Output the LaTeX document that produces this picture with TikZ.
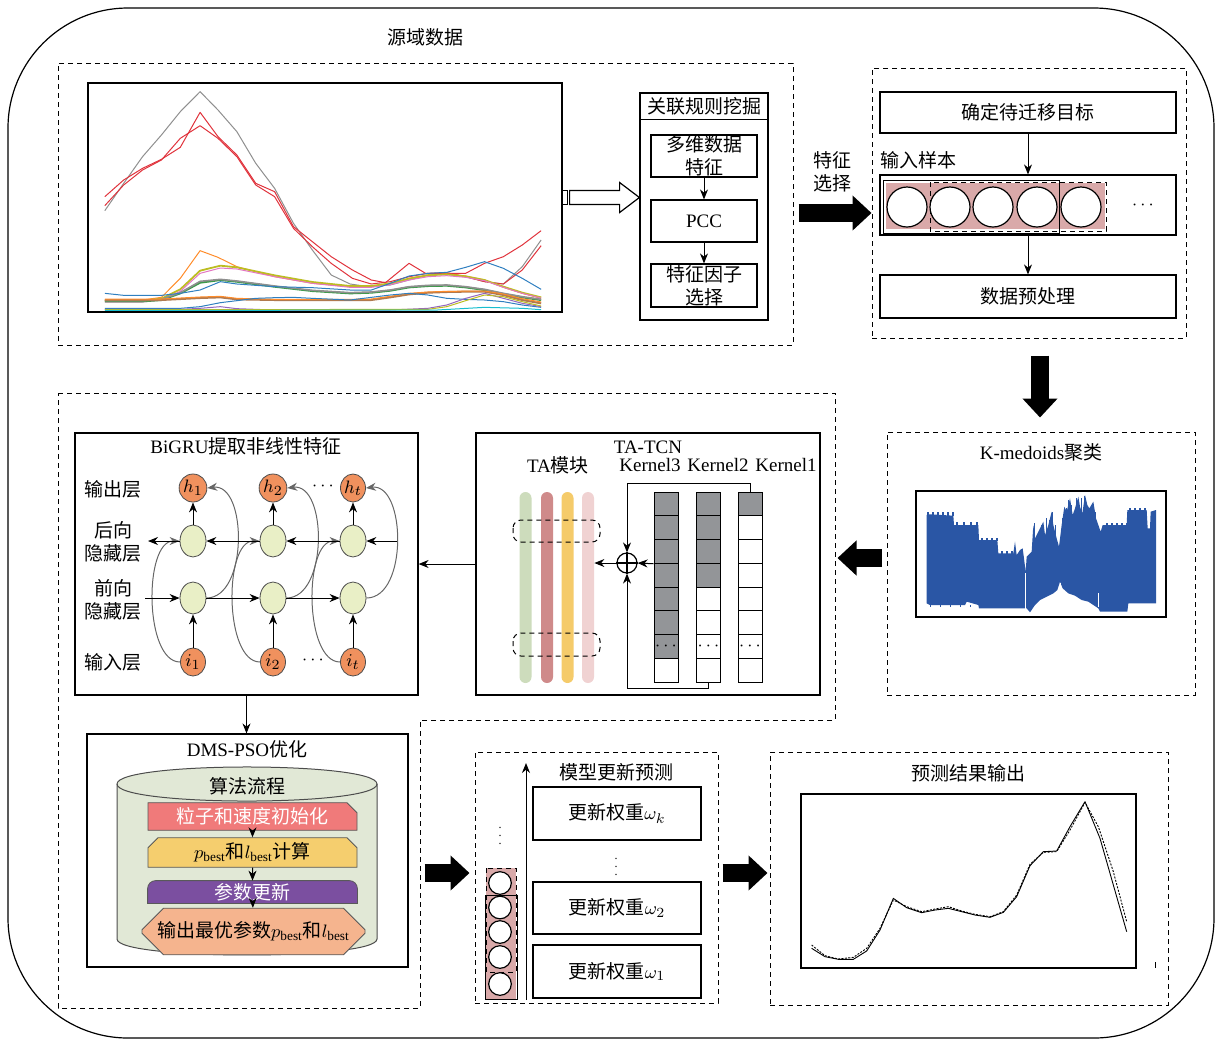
\documentclass[tikz,border=0pt]{standalone}
\usepackage{fontspec}
\setmainfont{Liberation Serif}
\newfontfamily\cjkfont{Noto Sans CJK SC}
\newcommand{\zh}[1]{{\cjkfont #1}}
\usetikzlibrary{arrows.meta,calc,fit,shapes.geometric,shapes.misc}

\definecolor{pinkfill}{HTML}{D9A9A9}
\definecolor{kgray}{HTML}{939598}
\definecolor{nodeor}{HTML}{F0915E}
\definecolor{nodeyl}{HTML}{E9EFC6}
\definecolor{cylfill}{HTML}{E1E8D6}
\definecolor{stepred}{HTML}{F07A7A}
\definecolor{stepyl}{HTML}{F5CE6E}
\definecolor{steppu}{HTML}{7B4FA0}
\definecolor{steppe}{HTML}{F5B48E}
\definecolor{wave}{HTML}{2A56A5}
\definecolor{tagreen}{HTML}{CDDCBC}
\definecolor{tared}{HTML}{CF8A8A}
\definecolor{tayel}{HTML}{F5CB6A}
\definecolor{tapink}{HTML}{F0D2D2}
\definecolor{tgray}{HTML}{8F8F8F}
\definecolor{tred}{HTML}{E0333C}
\definecolor{torange}{HTML}{FF8C2A}
\definecolor{tolive}{HTML}{BCBD22}
\definecolor{tpink}{HTML}{E377C2}
\definecolor{tgreen}{HTML}{3C9A4A}
\definecolor{tblue}{HTML}{2F7FC0}
\definecolor{tbrown}{HTML}{B07A50}
\definecolor{tpurple}{HTML}{9467BD}
\definecolor{tcyan}{HTML}{17BECF}

\tikzset{
  framebox/.style={draw, line width=0.6pt, inner sep=0pt},
  dashframe/.style={draw, dashed, dash pattern=on 2.5pt off 2pt, line width=0.5pt, inner sep=0pt},
  arr/.style={-{Stealth[length=5pt,width=4pt]}, line width=0.5pt},
  bigarrow/.style={line width=9pt, -{Triangle[length=9.5pt,width=17pt]}},
  kcell/.style={draw, line width=0.5pt, minimum width=12pt, minimum height=11.875pt, inner sep=0pt},
  tabar/.style={rectangle, rounded corners=3pt, minimum width=6pt, minimum height=95.5pt, inner sep=0pt},
  gruout/.style={ellipse, draw=black!70, fill=nodeor, minimum width=12.5pt, minimum height=14pt, inner sep=0pt},
  gruhid/.style={ellipse, draw=black!70, fill=nodeyl, minimum width=13pt, minimum height=16pt, inner sep=0pt},
  stepbox/.style={draw=black!65, line width=0.4pt, minimum width=104.5pt, minimum height=11.5pt, inner sep=0pt},
  sampcirc/.style={circle, draw, fill=white, line width=0.6pt, inner sep=0pt},
  smalldots/.style={font=\fontsize{6}{7}\selectfont, inner sep=0pt},
}

\begin{document}
\begin{tikzpicture}[x=0.5pt, y=-0.5pt, font=\fontsize{9.5}{11.5}\selectfont]
  \useasboundingbox (0,0) rectangle (1222,1041);

  % 外框
  \draw[line width=0.6pt, rounded corners=60pt] (8,8) rectangle (1214,1038);
  \node (srctitle) at (425,37) {\zh{源域数据}};

  % 源域数据
  \node[dashframe, fit={(58,63)(793,345)}] (srcframe) {};
  \node[framebox, fit={(88,83)(562,312)}] (srcchart) {};
  \begin{scope}[shift={(60,60)}, xscale=1/2.12, yscale=1/3, line width=0.5pt, line join=round]
    \draw[tgray] (95,452) -- (135,370) -- (175,290) -- (215,225) -- (255,155) -- (297,95) -- (335,150) -- (375,215) -- (415,310) -- (455,385) -- (495,490) -- (535,570) -- (575,645) -- (615,672) -- (655,680) -- (700,675) -- (740,660) -- (780,645) -- (820,642) -- (860,650) -- (900,665) -- (940,672) -- (980,620) -- (1020,540);
    \draw[tred] (95,410) -- (135,360) -- (175,325) -- (215,298) -- (255,262) -- (297,157) -- (335,230) -- (375,285) -- (415,370) -- (455,395) -- (495,500) -- (535,545) -- (575,590) -- (620,630) -- (660,660) -- (690,668) -- (740,610) -- (775,640) -- (820,640) -- (860,640) -- (900,610) -- (940,590) -- (980,555) -- (1020,512);
    \draw[tred] (95,437) -- (135,375) -- (175,330) -- (215,300) -- (255,235) -- (297,197) -- (335,235) -- (375,290) -- (415,375) -- (455,410) -- (495,505) -- (535,560) -- (575,610) -- (620,655) -- (660,672) -- (700,665) -- (740,650) -- (780,640) -- (820,638) -- (860,650) -- (900,665) -- (940,672) -- (980,630) -- (1020,557);
    \draw[torange] (95,720) -- (175,720) -- (215,712) -- (255,655) -- (297,572) -- (335,592) -- (375,620) -- (455,650) -- (535,670) -- (615,680) -- (655,680) -- (700,672) -- (740,655) -- (780,645) -- (820,642) -- (860,648) -- (900,660) -- (940,682) -- (980,700) -- (1020,715);
    \draw[tolive, line width=0.9pt] (95,722) -- (175,722) -- (215,716) -- (255,688) -- (297,632) -- (340,617) -- (375,622) -- (455,646) -- (535,666) -- (615,678) -- (660,678) -- (700,670) -- (740,656) -- (780,646) -- (820,643) -- (860,649) -- (900,660) -- (940,680) -- (980,698) -- (1020,712);
    \draw[tpink] (95,726) -- (175,726) -- (215,720) -- (255,694) -- (297,640) -- (340,624) -- (375,627) -- (455,650) -- (535,670) -- (615,682) -- (660,682) -- (700,674) -- (740,660) -- (780,650) -- (820,647) -- (860,652) -- (900,662) -- (940,682) -- (980,700) -- (1020,714);
    \draw[tgreen, line width=1pt] (95,724) -- (175,724) -- (215,720) -- (255,700) -- (297,668) -- (340,660) -- (375,665) -- (455,680) -- (535,693) -- (615,700) -- (660,698) -- (700,692) -- (740,682) -- (780,678) -- (820,677) -- (860,682) -- (900,690) -- (940,702) -- (980,712) -- (1020,720);
    \draw[tgray, line width=0.8pt] (95,722) -- (175,722) -- (215,718) -- (255,698) -- (297,664) -- (340,658) -- (375,663) -- (455,678) -- (535,691) -- (615,698) -- (660,696) -- (700,690) -- (740,680) -- (780,676) -- (820,675) -- (860,680) -- (900,688) -- (940,700) -- (980,710) -- (1020,718);
    \draw[tblue] (95,700) -- (135,706) -- (215,706) -- (255,700) -- (297,690) -- (340,665) -- (375,672) -- (455,680) -- (535,683) -- (615,690) -- (660,690) -- (700,670) -- (740,648) -- (780,640) -- (820,637) -- (860,622) -- (900,605) -- (940,625) -- (980,655) -- (1020,688);
    \draw[tbrown, line width=1pt] (95,720) -- (215,720) -- (297,714) -- (340,712) -- (375,718) -- (455,720) -- (535,720) -- (615,720) -- (660,720) -- (700,712) -- (740,703) -- (780,698) -- (820,696) -- (860,695) -- (900,695) -- (940,705) -- (980,720) -- (1020,730);
    \draw[torange] (95,717) -- (215,717) -- (297,711) -- (340,709) -- (375,715) -- (455,718) -- (615,718) -- (660,717) -- (700,709) -- (740,700) -- (780,696) -- (820,694) -- (900,693) -- (940,702) -- (980,716) -- (1020,726);
    \draw[tblue] (95,745) -- (255,745) -- (297,740) -- (340,728) -- (375,722) -- (415,715) -- (455,713) -- (495,712) -- (535,715) -- (615,720) -- (700,705) -- (740,700) -- (780,705) -- (820,715) -- (860,718) -- (900,720) -- (940,725) -- (980,735) -- (1020,742);
    \draw[tpurple] (95,748) -- (255,748) -- (297,745) -- (340,740) -- (375,746) -- (455,750) -- (700,750) -- (780,745) -- (820,735) -- (860,715) -- (900,700) -- (940,715) -- (980,730) -- (1020,740);
    \draw[tolive] (95,749) -- (340,749) -- (780,748) -- (820,740) -- (860,722) -- (900,705) -- (940,710) -- (980,725) -- (1020,738);
    \draw[tcyan] (95,751) -- (340,751) -- (800,750) -- (900,742) -- (980,745) -- (1020,749);
  \end{scope}

  % 关联规则挖掘
  \node[framebox, fit={(640,93)(768,320)}] (rulebox) {};
  \node (ruletitle) at (704,106.5) {\zh{关联规则挖掘}};
  \draw[line width=0.6pt] ($(rulebox.north west)+(0,27)$) -- ($(rulebox.north east)+(0,27)$);
  \node[framebox, fit={(651,135)(757,177)}, label={[align=center]center:{\zh{多维数据}\\\zh{特征}}}] (mdfeat) {};
  \node[framebox, fit={(651,200)(757,242)}, label=center:PCC] (pcc) {};
  \node[framebox, fit={(651,264)(757,307)}, label={[align=center]center:{\zh{特征因子}\\\zh{选择}}}] (factor) {};
  \draw[arr] (mdfeat) -- (pcc);
  \draw[arr] (pcc) -- (factor);

  % 空心箭头
  \draw[line width=0.6pt] (srcchart.east) ++(0,-7) rectangle ++(5,14);
  \draw[line width=0.6pt] ($(srcchart.east)+(7,-7)$) -- ++(50,0) -- ++(0,-8) -- (rulebox.west |- srcchart.east) -- ($(srcchart.east)+(57,15)$) -- ++(0,-8) -- ($(srcchart.east)+(7,7)$) -- cycle;

  % 特征选择
  \node[dashframe, fit={(872,68)(1186,338)}] (tgtframe) {};
  \node[align=center] (selname) at (832,172) {\zh{特征}\\\zh{选择}};
  \draw[bigarrow] ($(srcframe.east)+(5,9)$) -- ($(tgtframe.west)+(0,10)$);

  \node[framebox, fit={(880,92)(1176,133)}, label=center:{\zh{确定待迁移目标}}] (goal) {};
  \node[anchor=west, inner sep=0pt] (samplelbl) at (880,160) {\zh{输入样本}};
  \node[framebox, fit={(880,175)(1176,235)}] (sample) {};
  \fill[pinkfill] (886,183) rectangle (1105,229);
  \draw[line width=0.5pt] (883,180) rectangle (1059,233);
  \draw[dashframe] (930,182) rectangle (1106,231);
  \foreach \i/\cx in {1/907,2/950,3/993,4/1037,5/1081}
    \node[sampcirc, minimum size=20pt] (s\i) at (\cx,207) {};
  \node (sdots) at (1143,205) {$\cdots$};
  \node[framebox, fit={(880,275)(1176,318)}, label=center:{\zh{数据预处理}}] (prep) {};
  \draw[arr] (goal) -- (sample);
  \draw[arr] (sample) -- (prep);

  % K-medoids聚类
  \node[dashframe, fit={(887,432)(1195,695)}] (kmframe) {};
  \draw[bigarrow] ($(tgtframe.south)+(11,17)$) -- ($(kmframe.north)+(-1,-14)$);
  \node (kmtitle) at (1041,452) {K-medoids\zh{聚类}};
  \node[framebox, fit={(916,491)(1166,617)}] (kmplot) {};
  \begin{scope}[shift={(880,425)}, scale=1/3]
    \fill[wave] (140,490) -- (140,270) -- (150,268) -- (220,272) -- (222,300) -- (295,300) -- (297,345) -- (352,345) -- (355,385) -- (400,385) -- (405,350) -- (410,390) -- (420,375) -- (428,370) -- (432,400) -- (437,440) -- (440,395) -- (455,380) -- (460,300) -- (465,340) -- (475,320) -- (490,290) -- (495,330) -- (505,300) -- (515,260) -- (520,300) -- (530,340) -- (537,365) -- (545,300) -- (553,245) -- (560,260) -- (570,220) -- (578,270) -- (585,250) -- (595,215) -- (600,245) -- (607,265) -- (615,210) -- (622,240) -- (628,250) -- (640,230) -- (648,280) -- (655,300) -- (662,320) -- (668,300) -- (740,300) -- (742,255) -- (800,255) -- (803,310) -- (810,310) -- (812,260) -- (828,255) -- (828,535) -- (810,535) -- (745,535) -- (742,560) -- (660,560) -- (655,550) -- (640,540) -- (625,530) -- (605,525) -- (585,512) -- (565,505) -- (548,490) -- (540,470) -- (532,495) -- (520,505) -- (500,515) -- (480,525) -- (465,540) -- (450,562) -- (440,550) -- (355,550) -- (297,550) -- (295,540) -- (260,530) -- (255,540) -- (150,540) -- (140,535) -- cycle;
    % 锯齿
    \foreach \bx in {145,160,...,220} \fill[wave] (\bx-3,273) rectangle (\bx+3,262);
    \foreach \bx in {232,252,...,292} \fill[wave] (\bx-3,302) rectangle (\bx+3,292);
    \foreach \bx in {305,320,...,350} \fill[wave] (\bx-3,347) rectangle (\bx+3,338);
    \foreach \bx in {365,380,...,400} \fill[wave] (\bx-3,387) rectangle (\bx+3,378);
    \foreach \bx in {680,695,...,740} \fill[wave] (\bx-3,302) rectangle (\bx+3,293);
    \foreach \bx in {750,765,...,800} \fill[wave] (\bx-3,257) rectangle (\bx+3,248);
    \foreach \bx/\by in {463/295, 472/330, 483/300, 498/280, 508/285, 518/262, 527/300, 548/280, 558/250, 566/225, 575/240, 590/220, 603/220, 612/212, 620/235, 633/240, 645/260}
      \draw[wave, line width=0.5pt] (\bx,\by+40) -- (\bx,\by);
    \foreach \bx/\by in {150,180,...,420} \draw[wave, line width=0.5pt] (\bx,540) -- (\bx,546);
    \draw[white, line width=0.4pt] (437,445) -- (437,553) (540,475) -- (540,528) (655,505) -- (655,545);
  \end{scope}
  \draw[bigarrow] ($(kmframe.west)+(-5,-5.5)$) -- ++(-44,0);

  % 中间虚线区域
  \draw[dashframe] (58,393) -- (835,393) -- (835,720) -- (420,720) -- (420,1008) -- (58,1008) -- cycle;

  % TA-TCN
  \node[framebox, fit={(476,433)(820,695)}] (tcnbox) {};
  \node (tcntitle) at (648,447) {TA-TCN};
  \node (tatitle) at (558,465) {TA\zh{模块}};
  \node (kl3) at (650,465) {Kernel3};
  \node (kl2) at (718,465) {Kernel2};
  \node (kl1) at (786,465) {Kernel1};
  \foreach \c/\bx [count=\n] in {tagreen/525.5, tared/547, tayel/567.5, tapink/588}
    \node[tabar, fill=\c] (ta\n) at (\bx,587.5) {};
  \draw[dashframe, rounded corners=4pt] (513,520) rectangle (600,542);
  \draw[dashframe, rounded corners=4pt] (513,633) rectangle (600,656);
  \foreach \kn/\kx/\ng in {3/666/7, 2/708.5/4, 1/750/1}{
    \foreach \i in {1,...,8}{
      \pgfmathtruncatemacro\cellpct{\i<=\ng ? 100 : 0}
      \node[kcell, fill=kgray!\cellpct] (k\kn-\i) at (\kx,{480.125+23.75*\i}) {};
    }
    \node[inner sep=0pt] at (k\kn-7) {$\cdots$};
  }
  \node[circle, draw, line width=0.6pt, minimum size=10pt, inner sep=0pt] (oplus) at (627,563) {};
  \draw[line width=0.6pt] (oplus.north) -- (oplus.south) (oplus.west) -- (oplus.east);
  \draw[arr] (k3-3.south west) -- (oplus.east);
  \draw[arr] (k1-1.north) -- ++(0,-8) -| (oplus.north);
  \draw[arr] (k2-8.south) -- ++(0,6) -| (oplus.south);
  \draw[arr] (oplus.west) -- (oplus.west -| ta4.east);

  % BiGRU
  \node[framebox, fit={(75,433)(418,695)}] (grubox) {};
  \draw[arr] (tcnbox.west) -- (grubox.east);
  \node (grutitle) at (246,446) {BiGRU\zh{提取非线性特征}};
  \node (lout) at (113,489) {\zh{输出层}};
  \node[align=center] (lbwd) at (113,542) {\zh{后向}\\\zh{隐藏层}};
  \node[align=center] (lfwd) at (113,600) {\zh{前向}\\\zh{隐藏层}};
  \node (lin) at (113,662) {\zh{输入层}};
  \foreach \n/\cx/\lab in {1/193/1, 2/273/2, 3/353/t}{
    \node[gruout] (h\n) at (\cx,488) {$h_{\lab}$};
    \node[gruhid] (b\n) at (\cx,541) {};
    \node[gruhid] (f\n) at (\cx,598) {};
    \node[gruout] (i\n) at (\cx,662) {$i_{\lab}$};
    \draw[arr] (i\n) -- (f\n);
    \draw[arr] (b\n) -- (h\n);
    \draw[arr, draw=black!60] (i\n.west) .. controls +(-36,0) and +(-36,0) .. (b\n.west);
    \draw[arr, draw=black!60] (f\n.east) .. controls +(42,0) and +(40,-5) .. (h\n.east);
  }
  \coordinate (bleft) at (148,541);
  \coordinate (bright) at (397,541);
  \coordinate (fleft) at (145,598);
  \draw[arr] (b1.west) -- (bleft);
  \draw[arr] (b2.west) -- (b1.east);
  \draw[arr] (b3.west) -- (b2.east);
  \draw[arr] (bright) -- (b3.east);
  \draw[arr] (fleft) -- (f1.west);
  \draw[arr] (f1.east) -- (f2.west);
  \draw[arr] (f2.east) -- (f3.west);
  \node (hdots) at (323,486) {$\cdots$};
  \node (idots) at (313,660) {$\cdots$};

  % DMS-PSO优化
  \node[framebox, fit={(87,734)(408,967)}] (psobox) {};
  \draw[arr] (grubox.south) -- (grubox.south |- psobox.north);
  \node (psotitle) at (247,749) {DMS-PSO\zh{优化}};
  \filldraw[fill=cylfill, draw=black!70, line width=0.5pt] (117,784) -- (117,939) .. controls (117,960.3) and (377,960.3) .. (377,939) -- (377,784) .. controls (377,761.3) and (117,761.3) .. (117,784) -- cycle;
  \draw[black!70, line width=0.5pt] (117,784) .. controls (117,806.7) and (377,806.7) .. (377,784);
  \node (algotitle) at (247,786) {\zh{算法流程}};
  \node[stepbox, fill=stepred, chamfered rectangle, chamfered rectangle corners=north east, chamfered rectangle xsep=2.5pt, chamfered rectangle ysep=2.5pt, text=white] (st1) at (252.5,816.5) {\zh{粒子和速度初始化}};
  \node[stepbox, fill=stepyl, chamfered rectangle, chamfered rectangle corners={north west,north east}, chamfered rectangle xsep=2.5pt, chamfered rectangle ysep=2.5pt] (st2) at (252.5,852.5) {$p_{\mathrm{best}}$\zh{和}$l_{\mathrm{best}}$\zh{计算}};
  \node[minimum width=104.5pt, minimum height=11pt, inner sep=0pt] (st3) at (252.5,892) {};
  \filldraw[fill=steppu, draw=black!65, line width=0.4pt] (st3.south west) [rounded corners=4pt] -- (st3.north west) -- (st3.north east) [sharp corners] -- (st3.south east) -- cycle;
  \node[text=white, inner sep=0pt] (st3txt) at (st3) {\zh{参数更新}};
  \node[stepbox, fill=steppe, chamfered rectangle, chamfered rectangle xsep=4pt, chamfered rectangle ysep=6.75pt, minimum width=111.5pt, minimum height=13.5pt] (st4) at (253.5,931.5) {\zh{输出最优参数}$p_{\mathrm{best}}$\zh{和}$l_{\mathrm{best}}$};
  \draw[arr] (st1) -- (st2);
  \draw[arr] (st2) -- (st3);
  \draw[arr] (st3) -- (st4);

  % 模型更新预测
  \node[dashframe, fit={(475,752)(718,1003)}] (updframe) {};
  \draw[bigarrow] ($(updframe.west)+(-50,-4.5)$) -- ($(updframe.west)+(-5,-4.5)$);
  \coordinate (upbot) at (526,1000);
  \coordinate (uptop) at (526,763);
  \draw[arr] (upbot) -- (uptop);
  \node (updtitle) at (616,772) {\zh{模型更新预测}};
  \node[framebox, fit={(533,787)(701,840)}, label=center:{\zh{更新权重}$\omega_k$}] (wk) {};
  \node[smalldots] (wdots) at (616,861) {$\vdots$};
  \node[framebox, fit={(533,882)(701,934)}, label=center:{\zh{更新权重}$\omega_2$}] (w2) {};
  \node[framebox, fit={(533,945)(701,998)}, label=center:{\zh{更新权重}$\omega_1$}] (w1) {};
  \fill[pinkfill] (486,868) rectangle (516,999);
  \draw[dashframe] (486,868) rectangle (516,972);
  \draw[line width=0.5pt] (485,895) rectangle (517,999);
  \foreach \i/\cy in {1/883,2/907.5,3/932,4/957,5/984}
    \node[sampcirc, minimum size=11.3pt] (c\i) at (500,\cy) {};
  \node[smalldots] (cdots) at (500,830) {$\vdots$};

  % 预测结果输出
  \node[dashframe, fit={(770,752)(1168,1005)}] (outframe) {};
  \draw[bigarrow] ($(updframe.east)+(4,-4.5)$) -- ($(outframe.west)+(-2,-5.5)$);
  \node (outtitle) at (968,773) {\zh{预测结果输出}};
  \node[framebox, fit={(801,794)(1136,968)}] (predplot) {};
  \begin{scope}[shift={(760,745)}, scale=1/3, line width=0.45pt, line join=round]
    \draw (155,610) -- (195,635) -- (235,643) -- (280,643) -- (320,618) -- (360,555) -- (400,460) -- (440,488) -- (485,503) -- (525,495) -- (565,490) -- (605,500) -- (645,510) -- (690,517) -- (730,502) -- (770,455) -- (810,362) -- (850,320) -- (890,318) -- (930,245) -- (975,170) -- (1020,280) -- (1060,420) -- (1100,560);
    \draw[dash pattern=on 1pt off 0.7pt] (155,600) -- (195,632) -- (235,642) -- (280,637) -- (320,610) -- (360,550) -- (400,465) -- (440,485) -- (485,500) -- (525,492) -- (565,485) -- (605,498) -- (645,508) -- (690,515) -- (730,500) -- (770,450) -- (810,358) -- (850,322) -- (890,320) -- (930,255) -- (975,172) -- (1015,245) -- (1060,380) -- (1100,530);
  \end{scope}
  \draw[line width=0.5pt] (1155,962) -- (1155,968);
\end{tikzpicture}
\end{document}
